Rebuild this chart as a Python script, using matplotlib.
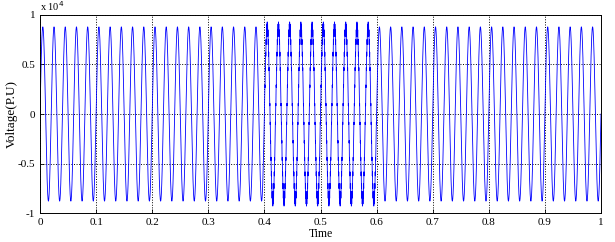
import matplotlib
matplotlib.use("Agg")
import matplotlib.pyplot as plt
import numpy as np
from matplotlib.ticker import FuncFormatter

# waveform parameters
freq = 50.0            # Hz, 5 cycles per 0.1 s
amplitude = 0.88e4     # normal peak
dist_start, dist_end = 0.4, 0.6
ripple_amp = 0.05e4    # extra high-frequency ripple during disturbance
ripple_freq = 1450.0
fs = 20000.0

xticks = [0, 0.1, 0.2, 0.3, 0.4, 0.5, 0.6, 0.7, 0.8, 0.9, 1]
yticks = [-1e4, -0.5e4, 0, 0.5e4, 1e4]

t = np.arange(0, 1 + 1 / fs, 1 / fs)
v = amplitude * np.sin(2 * np.pi * freq * t)
dist = (t >= dist_start) & (t <= dist_end)
v[dist] += ripple_amp * np.sin(2 * np.pi * ripple_freq * t[dist])

plt.rcParams["font.family"] = ["Liberation Serif", "DejaVu Serif"]

fig = plt.figure(figsize=(6.15, 2.42), dpi=100)
ax = fig.add_axes([40 / 615, 29 / 242, 561 / 615, 198 / 242])
ax.plot(t, v, color="#0000ff", lw=0.6)

ax.set_xlim(0, 1)
ax.set_ylim(-1e4, 1e4)
ax.set_xticks(xticks)
ax.set_yticks(yticks)
ax.xaxis.set_major_formatter(FuncFormatter(lambda x, p: "%g" % x))
ax.yaxis.set_major_formatter(FuncFormatter(lambda y, p: "%g" % (y / 1e4)))
ax.tick_params(direction="in", labelsize=8, length=3, width=0.6)
ax.grid(True, color="black", linestyle=":", linewidth=0.7)
for s in ax.spines.values():
    s.set_linewidth(0.7)

ax.text(0, 1.01, "x 10$^4$", transform=ax.transAxes, fontsize=7.5,
        ha="left", va="bottom")
ax.set_xlabel("Time", fontsize=8.5, labelpad=1)
ax.set_ylabel("Voltage(P.U)", fontsize=9.5)
ax.yaxis.set_label_coords(-0.039, 0.5)

fig.savefig("out.png", dpi=100)
